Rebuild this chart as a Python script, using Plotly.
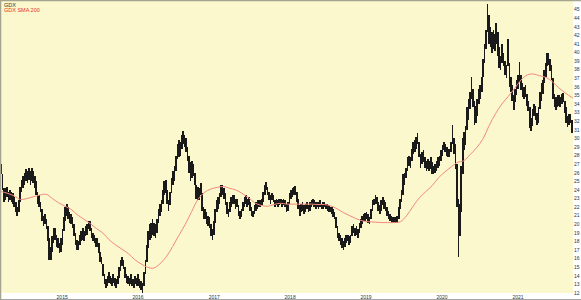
import numpy as np
import pandas as pd
import plotly.graph_objects as go

# ---- weekly price ranges ----
low_2014 = [25.8,24.0,22.6,22.8,23.2,22.6,22.8,22.6,22.4,22.0,21.4,21.0,21.4,22.6,23.8,24.2,24.6,25.0,24.8,25.2,24.6,25.0,24.8,24.2,23.4,22.4,22.0,21.4,20.4,19.8,20.0,19.4,18.0,15.8,15.8,16.8,17.8,18.2,17.4,17.2,16.6,16.8]
high_2014 = [27.0,25.8,24.2,24.2,24.4,23.8,24.0,23.8,23.6,23.2,22.6,22.0,22.8,24.4,25.2,25.6,26.0,26.4,26.2,26.6,26.2,26.6,26.2,25.6,25.0,23.8,23.4,22.6,21.8,21.0,21.2,20.6,19.8,18.4,17.4,18.6,19.6,19.6,18.8,18.4,17.8,18.4]
low_2015 = [17.6,19.2,20.4,21.0,20.6,20.2,20.0,19.6,18.6,17.6,17.0,17.0,17.6,18.0,18.2,18.0,18.6,18.8,19.4,19.2,18.4,18.0,17.8,17.4,17.4,16.6,15.6,15.4,14.0,13.0,12.6,12.8,13.2,13.0,12.8,13.2,12.8,12.6,13.0,13.8,14.6,15.2,14.8,13.8,13.2,13.0,12.8,13.0,12.8,12.6,13.0,12.8]
high_2015 = [19.4,20.8,22.0,22.4,22.0,21.4,21.2,20.8,20.0,19.0,18.2,18.0,18.8,19.2,19.6,19.2,19.8,20.0,20.4,20.4,19.6,19.0,18.8,18.4,18.4,17.8,16.8,16.2,15.4,14.2,13.6,14.0,14.4,14.0,13.8,14.2,13.8,13.6,14.0,15.0,15.8,16.2,15.8,15.0,14.2,14.0,13.8,14.2,13.6,13.6,14.0,13.8]
low_2016 = [12.8,12.6,12.4,12.0,12.8,14.2,15.6,17.2,18.2,18.4,18.8,18.6,18.4,19.0,20.2,21.0,21.4,22.4,23.4,23.6,22.4,21.6,22.2,23.6,24.6,25.0,26.2,27.6,27.8,28.0,28.8,29.4,29.0,28.4,27.4,26.0,25.0,25.4,25.6,24.6,23.0,22.8,22.8,23.4,21.6,20.6,20.6,20.0,19.8,19.6,18.6,18.2]
high_2016 = [14.2,13.6,13.4,13.2,14.4,15.8,17.6,19.2,20.0,20.2,20.6,20.2,20.0,20.6,21.8,22.4,22.8,24.0,25.0,25.2,24.0,22.8,23.8,25.4,26.2,26.8,28.0,29.4,29.8,29.6,30.4,30.9,30.4,30.0,29.0,28.0,27.2,27.4,27.0,26.0,24.6,24.4,24.2,24.8,23.6,22.0,21.8,21.4,21.0,20.8,20.0,19.4]
low_2017 = [18.8,20.2,21.4,21.8,22.4,23.2,23.4,23.0,22.2,21.2,20.8,21.4,22.0,22.4,22.4,21.8,22.0,21.0,20.6,20.8,21.6,22.0,22.4,22.0,22.2,21.6,21.0,20.8,21.2,21.6,21.8,22.0,22.0,22.2,22.6,23.4,24.0,23.4,22.8,22.4,22.8,22.6,22.0,22.2,22.0,22.2,22.4,22.0,22.2,22.0,21.4,21.6]
high_2017 = [20.4,21.8,22.8,23.2,23.6,24.6,24.6,24.2,23.6,22.6,21.8,22.6,23.2,23.4,23.4,23.0,23.0,22.2,21.6,21.8,22.6,23.2,23.4,23.0,23.2,22.6,22.0,21.6,22.2,22.6,22.8,22.8,22.8,23.0,23.8,24.6,24.9,24.4,23.8,23.4,23.6,23.4,22.8,23.0,22.8,23.0,23.0,22.8,23.0,22.8,22.4,22.6]
low_2018 = [22.4,23.0,23.2,23.4,23.4,22.6,21.8,21.0,21.4,21.6,21.2,21.4,21.8,21.4,21.6,22.0,22.2,22.0,21.8,22.0,21.8,22.0,21.8,21.8,22.0,21.8,21.6,21.4,21.4,21.2,20.8,20.6,19.6,18.4,18.0,17.6,17.2,17.0,17.4,17.8,18.0,17.6,17.8,18.6,19.0,18.6,18.8,18.4,19.0,19.6,20.0,20.4]
high_2018 = [23.6,24.0,24.2,24.4,24.5,23.8,23.0,22.2,22.4,22.6,22.2,22.4,22.6,22.2,22.6,22.8,23.0,22.8,22.6,22.6,22.6,22.8,22.4,22.6,22.6,22.4,22.4,22.2,22.0,22.0,21.8,21.4,20.8,19.8,19.0,18.8,18.4,18.0,18.4,18.8,18.8,18.6,18.8,19.8,20.0,19.6,19.8,19.4,20.2,20.6,21.0,21.2]
low_2019 = [20.4,20.6,20.2,20.0,20.6,21.6,22.2,22.4,22.4,21.6,21.2,21.6,22.2,21.8,21.6,21.0,20.6,20.4,20.2,20.2,20.1,20.2,20.1,20.6,21.8,22.6,23.4,24.6,25.4,26.2,26.8,26.6,27.4,28.2,28.4,28.8,29.4,27.8,26.6,27.0,27.2,26.6,26.2,26.4,26.2,26.4,25.8,25.8,26.0,26.2,26.6,26.8]
high_2019 = [21.3,21.4,21.2,20.8,21.8,22.8,23.0,23.4,23.2,22.6,22.2,22.8,23.2,22.8,22.6,22.0,21.6,21.2,21.0,20.8,20.8,20.9,21.0,22.0,23.0,24.0,25.8,26.0,26.6,27.8,28.0,27.8,28.8,29.6,29.8,30.2,30.6,29.6,28.2,28.4,28.6,27.8,27.4,27.6,27.4,27.8,27.2,26.8,27.0,27.4,27.8,28.0]
low_2020 = [27.4,28.0,28.6,28.4,28.0,27.8,27.8,28.4,29.4,28.2,26.4,22.0,16.2,18.6,21.4,25.8,28.6,29.2,31.0,32.2,33.4,34.6,33.6,31.6,31.8,32.6,34.0,34.6,35.4,37.2,38.8,40.4,42.4,41.0,40.6,40.0,40.4,40.2,41.0,39.6,38.2,38.0,38.8,38.4,37.4,37.0,38.4,36.0,35.4,34.4,33.3,34.2,35.0,35.8]
high_2020 = [28.6,29.2,29.6,29.4,29.0,28.8,28.8,29.6,31.6,30.0,29.4,27.0,23.0,22.4,26.8,30.0,30.8,31.4,33.6,34.6,35.4,37.1,35.8,34.4,33.8,34.6,35.8,36.2,37.2,39.2,41.0,42.6,45.6,44.4,43.0,42.4,42.6,42.2,43.4,42.4,40.6,39.6,41.0,40.0,39.0,38.6,41.6,38.8,37.2,36.2,35.0,35.8,36.8,37.4]
low_2021 = [36.6,35.6,34.8,34.6,34.8,33.8,33.2,31.2,30.9,31.4,32.6,32.2,31.6,31.8,33.4,34.4,35.2,36.4,37.2,38.4,38.6,37.8,36.8,34.6,33.6,33.3,33.6,33.8,33.6,34.0,34.2,33.0,31.8,31.3,31.6,31.8,30.6]
high_2021 = [38.9,37.4,36.4,36.0,36.2,35.2,34.4,33.6,32.4,33.4,34.0,33.8,33.0,33.6,35.4,36.4,36.8,38.0,38.8,39.9,39.9,39.2,38.6,37.0,35.2,34.8,35.0,35.0,34.8,35.2,35.3,34.4,33.6,32.6,32.8,32.8,32.2]

# ---- 200-day simple moving average ----
sma_dates = ["2014-03-01","2014-03-15","2014-04-15","2014-05-15","2014-06-15","2014-07-15","2014-08-15","2014-09-15","2014-10-15","2014-11-15","2014-12-15",
             "2015-01-15","2015-02-15","2015-03-15","2015-04-15","2015-05-15","2015-06-15","2015-07-15","2015-08-15","2015-09-15","2015-10-15","2015-11-15","2015-12-15",
             "2016-01-15","2016-02-15","2016-03-15","2016-04-15","2016-05-15","2016-06-15","2016-07-15","2016-08-15","2016-09-15","2016-10-15","2016-11-15","2016-12-15",
             "2017-01-15","2017-02-15","2017-03-15","2017-04-15","2017-05-15","2017-06-15","2017-07-15","2017-08-15","2017-09-15","2017-10-15","2017-11-15","2017-12-15",
             "2018-01-15","2018-02-15","2018-03-15","2018-04-15","2018-05-15","2018-06-15","2018-07-15","2018-08-15","2018-09-15","2018-10-15","2018-11-15","2018-12-15",
             "2019-01-15","2019-02-15","2019-03-15","2019-04-15","2019-05-15","2019-06-15","2019-07-15","2019-08-15","2019-09-15","2019-10-15","2019-11-15","2019-12-15",
             "2020-01-15","2020-02-15","2020-03-15","2020-04-15","2020-05-15","2020-06-15","2020-07-15","2020-08-15","2020-09-15","2020-10-15","2020-11-15","2020-12-15",
             "2021-01-15","2021-02-15","2021-03-15","2021-04-15","2021-05-15","2021-06-15","2021-07-15","2021-08-15","2021-09-15","2021-09-30"]
sma_values = [23.9,23.8,23.6,23.3,22.9,23.0,23.2,23.4,23.5,23.0,22.5,
              22.1,21.7,21.1,20.6,20.1,19.5,19.0,18.2,17.6,17.1,16.6,15.9,
              15.4,15.0,14.9,15.4,16.2,17.4,18.7,20.0,21.5,22.9,23.7,24.1,
              24.3,24.4,24.2,24.0,23.6,23.1,22.5,22.2,22.1,22.3,22.45,22.35,
              22.35,22.35,22.35,22.35,22.3,22.3,22.15,21.8,21.35,21.0,20.65,20.4,
              20.3,20.25,20.2,20.2,20.2,20.3,21.0,22.1,23.1,23.8,24.5,25.4,
              26.1,26.7,27.2,27.4,28.1,28.9,29.9,31.5,32.9,34.0,34.9,35.8,
              36.8,37.4,37.5,37.3,37.1,36.6,35.9,35.3,34.8,34.6]

year_ticks = ["2015-01-01"]
x_range = ["2014-03-13", "2021-09-22"]
y_range = [12, 46]

lows = np.array(low_2014 + low_2015 + low_2016 + low_2017 + low_2018 + low_2019 + low_2020 + low_2021)
highs = np.array(high_2014 + high_2015 + high_2016 + high_2017 + high_2018 + high_2019 + high_2020 + high_2021)
weeks = pd.date_range("2014-03-14", periods=len(lows), freq="7D")

FONT = "Liberation Sans, Arial, sans-serif"

fig = go.Figure()
fig.add_trace(go.Bar(
    x=weeks, y=highs - lows, base=lows,
    width=3.2 * 86400000,
    marker=dict(color="#1a1a1a", line=dict(width=0)),
    name="GDX",
))
fig.add_trace(go.Scatter(
    x=sma_dates, y=sma_values, mode="lines",
    line=dict(color="#f4887e", width=1, shape="spline"),
    name="GDX SMA 200",
))

W, H = 572, 292
fig.update_layout(
    width=581, height=300,
    margin=dict(l=1, r=8, t=1, b=7),
    plot_bgcolor="#FAF8CC", paper_bgcolor="white",
    showlegend=False, bargap=0,
    font=dict(family=FONT, size=5, color="#333333"),
    xaxis=dict(type="date", range=x_range, tick0=year_ticks[0], dtick="M12",
               tickformat="%Y", showgrid=False, zeroline=False, ticks="",
               tickfont=dict(size=5, color="#333333"), fixedrange=True),
    yaxis=dict(side="right", range=y_range, tick0=12, dtick=1, showgrid=False,
               zeroline=False, ticks="", tickfont=dict(size=5, color="#333333"),
               fixedrange=True),
    shapes=[
        dict(type="line", xref="paper", yref="paper", x0=-1 / W, x1=1 + 8 / W,
             y0=1 + 0.5 / H, y1=1 + 0.5 / H, line=dict(color="#a4a490", width=1.5)),
        dict(type="line", xref="paper", yref="paper", x0=-0.5 / W, x1=-0.5 / W,
             y0=-7 / H, y1=1 + 1 / H, line=dict(color="#a4a490", width=1.5)),
        dict(type="line", xref="paper", yref="paper", x0=-1 / W, x1=1 + 8 / W,
             y0=-6.5 / H, y1=-6.5 / H, line=dict(color="#a4a4a4", width=1)),
    ],
    annotations=[
        dict(text="GDX", xref="paper", yref="paper", x=2 / W, y=1 - 0.5 / H,
             xanchor="left", yanchor="top", showarrow=False, borderpad=0,
             font=dict(family=FONT, size=5.5, color="#333333")),
        dict(text="GDX SMA 200", xref="paper", yref="paper", x=2 / W, y=1 - 5 / H,
             xanchor="left", yanchor="top", showarrow=False, borderpad=0,
             font=dict(family=FONT, size=5.5, color="#e8302a")),
    ],
)

fig.write_html("out.html")
